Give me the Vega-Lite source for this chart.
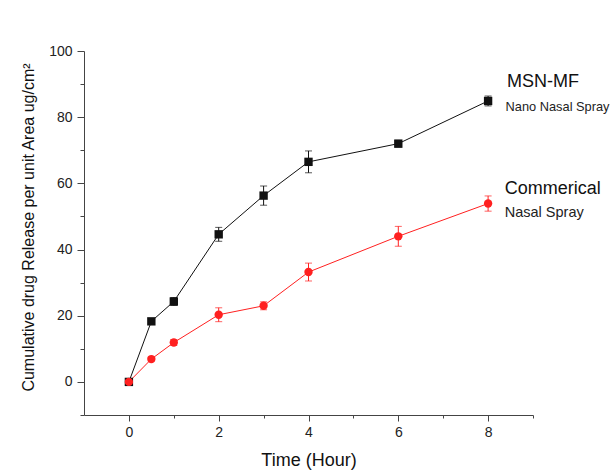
{
  "$schema": "https://vega.github.io/schema/vega-lite/v6.json",
  "autosize": "none",
  "width": 449,
  "height": 364,
  "padding": {"left": 84, "top": 51, "right": 78, "bottom": 55},
  "background": "white",
  "config": {
    "view": {"stroke": null},
    "axis": {
      "grid": false,
      "domainColor": "#444444",
      "tickColor": "#444444",
      "labelColor": "#222222",
      "labelFont": "Liberation Sans",
      "labelFontSize": 14,
      "titleFont": "Liberation Sans",
      "titleFontWeight": "normal",
      "titleColor": "#111111"
    }
  },
  "datasets": {
    "release": [
      {"time": 0, "release": 0, "err": 0.6, "series": "MSN-MF"},
      {"time": 0.5, "release": 18.3, "err": 0.8, "series": "MSN-MF"},
      {"time": 1, "release": 24.3, "err": 1.2, "series": "MSN-MF"},
      {"time": 2, "release": 44.6, "err": 2.1, "series": "MSN-MF"},
      {"time": 3, "release": 56.3, "err": 2.9, "series": "MSN-MF"},
      {"time": 4, "release": 66.5, "err": 3.3, "series": "MSN-MF"},
      {"time": 6, "release": 72.0, "err": 1.0, "series": "MSN-MF"},
      {"time": 8, "release": 84.9, "err": 1.5, "series": "MSN-MF"},
      {"time": 0, "release": 0, "err": 0.6, "series": "Commerical"},
      {"time": 0.5, "release": 6.9, "err": 0.6, "series": "Commerical"},
      {"time": 1, "release": 11.9, "err": 0.9, "series": "Commerical"},
      {"time": 2, "release": 20.3, "err": 2.1, "series": "Commerical"},
      {"time": 3, "release": 23.0, "err": 1.2, "series": "Commerical"},
      {"time": 4, "release": 33.2, "err": 2.7, "series": "Commerical"},
      {"time": 6, "release": 44.0, "err": 3.0, "series": "Commerical"},
      {"time": 8, "release": 53.9, "err": 2.3, "series": "Commerical"}
    ]
  },
  "encoding": {
    "x": {
      "field": "time", "type": "quantitative",
      "scale": {"domain": [-1, 9], "nice": false, "zero": false},
      "axis": {
        "title": "Time (Hour)",
        "titleFontSize": 18,
        "titlePadding": 12,
        "values": [0, 1, 2, 3, 4, 5, 6, 7, 8, 9],
        "labelExpr": "datum.value % 2 === 0 ? datum.label : ''",
        "tickSize": {"condition": {"test": "datum.value % 2 !== 0", "value": 3}, "value": 6},
        "labelPadding": 4
      }
    },
    "y": {
      "field": "release", "type": "quantitative",
      "scale": {"domain": [-10, 100], "nice": false, "zero": false},
      "axis": {
        "title": "Cumulative drug Release per unit Area ug/cm²",
        "titleFontSize": 16,
        "titlePadding": 12,
        "titleY": 176,
        "values": [-10, 0, 10, 20, 30, 40, 50, 60, 70, 80, 90, 100],
        "labelExpr": "datum.value % 20 === 0 ? datum.label : ''",
        "tickSize": {"condition": {"test": "datum.value % 20 !== 0", "value": 4}, "value": 7},
        "labelPadding": 5
      }
    }
  },
  "layer": [
    {
      "data": {"name": "release"},
      "mark": {"type": "line", "strokeWidth": 1},
      "encoding": {
        "color": {
          "field": "series", "type": "nominal",
          "scale": {"domain": ["MSN-MF", "Commerical"], "range": ["#111111", "#ff2020"]},
          "legend": null
        }
      }
    },
    {
      "data": {"name": "release"},
      "mark": {"type": "errorbar", "ticks": {"size": 7}, "rule": {"strokeWidth": 1}},
      "encoding": {
        "yError": {"field": "err"},
        "color": {"field": "series", "type": "nominal", "legend": null}
      }
    },
    {
      "data": {"name": "release"},
      "mark": {"type": "point", "filled": true, "opacity": 1, "size": 70},
      "encoding": {
        "shape": {
          "field": "series", "type": "nominal",
          "scale": {"domain": ["MSN-MF", "Commerical"], "range": ["square", "circle"]},
          "legend": null
        },
        "color": {"field": "series", "type": "nominal", "legend": null}
      }
    },
    {
      "data": {"values": [
        {"time": 8.42, "release": 90.6, "label": "MSN-MF"},
        {"time": 8.37, "release": 58.3, "label": "Commerical"}
      ]},
      "mark": {"type": "text", "align": "left", "baseline": "middle", "font": "Liberation Sans", "fontSize": 18, "color": "#111111"},
      "encoding": {
        "text": {"field": "label"}
      }
    },
    {
      "data": {"values": [
        {"time": 8.39, "release": 83.1, "label": "Nano Nasal Spray"}
      ]},
      "mark": {"type": "text", "align": "left", "baseline": "middle", "font": "Liberation Sans", "fontSize": 12.8, "color": "#222222"},
      "encoding": {
        "text": {"field": "label"}
      }
    },
    {
      "data": {"values": [
        {"time": 8.37, "release": 51.1, "label": "Nasal Spray"}
      ]},
      "mark": {"type": "text", "align": "left", "baseline": "middle", "font": "Liberation Sans", "fontSize": 14.5, "color": "#222222"},
      "encoding": {
        "text": {"field": "label"}
      }
    }
  ]
}
